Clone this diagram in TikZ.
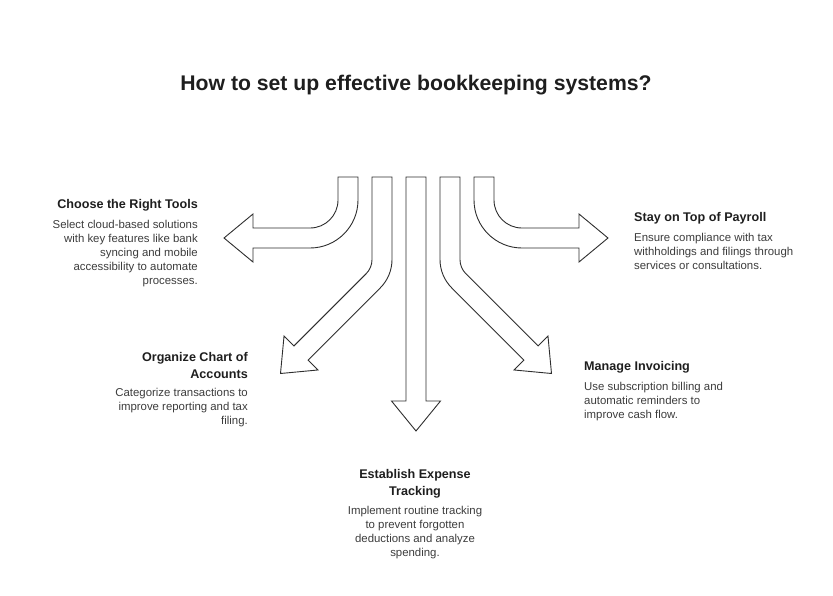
\documentclass[tikz,border=0pt]{standalone}
\usepackage{fontspec}
\setmainfont{Liberation Sans}
\usepackage{xcolor}
\usetikzlibrary{positioning}

\definecolor{ink}{HTML}{1E1E1E}
\definecolor{txt}{HTML}{3C3C3C}
\definecolor{edge}{HTML}{2E2E2E}

\begin{document}
\begin{tikzpicture}[x=1pt, y=-1pt,
  shp/.style={draw=edge, line width=0.9pt, fill=white, line join=miter},
  hd/.style={inner sep=0pt, text=ink, font=\fontsize{12.6}{17}\selectfont\bfseries},
  ds/.style={inner sep=0pt, text=txt, font=\fontsize{11.4}{14}\selectfont}]
\useasboundingbox (0,0) rectangle (833,595);

\node[inner sep=0pt, text=ink, font=\fontsize{21.2}{24}\selectfont\bfseries] (title) at (416,85)
  {How to set up effective bookkeeping systems?};

% arrows, left to right
\draw[shp] (338,177) -- (358,177) -- (358,200) .. controls (358,226.5) and (336.5,248) .. (310,248)
  -- (253,248) -- (253,262) -- (224,238) -- (253,214) -- (253,228) -- (310,228)
  .. controls (325.5,228) and (338,215.5) .. (338,200) -- cycle;
\draw[shp] (372,177) -- (392,177) -- (392,259.57) .. controls (392,270.18) and (387.78,280.36) .. (380.28,287.86)
  -- (308.07,360.07) -- (317.97,369.97) -- (280.5,373.5) -- (284.03,336.03) -- (293.93,345.93)
  -- (366.14,273.72) .. controls (369.89,269.97) and (372,264.88) .. (372,259.58) -- cycle;
\draw[shp] (406,177) -- (426,177) -- (426,401) -- (440.5,401) -- (416,431) -- (391.5,401) -- (406,401) -- cycle;
\draw[shp] (460,177) -- (440,177) -- (440,259.57) .. controls (440,270.18) and (444.22,280.36) .. (451.72,287.86)
  -- (523.93,360.07) -- (514.03,369.97) -- (551.5,373.5) -- (547.97,336.03) -- (538.07,345.93)
  -- (465.86,273.72) .. controls (462.11,269.97) and (460,264.88) .. (460,259.58) -- cycle;
\draw[shp] (494,177) -- (474,177) -- (474,200) .. controls (474,226.5) and (495.5,248) .. (522,248)
  -- (579,248) -- (579,262) -- (608,238) -- (579,214) -- (579,228) -- (522,228)
  .. controls (506.5,228) and (494,215.5) .. (494,200) -- cycle;

% labels
\node[hd, anchor=east] (tools) at (198,205) {Choose the Right Tools};
\node[ds, align=right, below left=9pt and 0pt of tools.south east] (tools-d)
  {Select cloud-based solutions\\with key features like bank\\syncing and mobile\\accessibility to automate\\processes.};

\node[hd, anchor=west] (payroll) at (634,218) {Stay on Top of Payroll};
\node[ds, align=left, below right=9pt and 0pt of payroll.south west] (payroll-d)
  {Ensure compliance with tax\\withholdings and filings through\\services or consultations.};

\node[hd, align=right, anchor=north east] (chart) at (248,352) {Organize Chart of\\Accounts};
\node[ds, align=right, below left=9pt and 0pt of chart.south east] (chart-d)
  {Categorize transactions to\\improve reporting and tax\\filing.};

\node[hd, anchor=west] (invoice) at (584,367) {Manage Invoicing};
\node[ds, align=left, below right=9pt and 0pt of invoice.south west] (invoice-d)
  {Use subscription billing and\\automatic reminders to\\improve cash flow.};

\node[hd, align=center, anchor=north] (expense) at (415,469) {Establish Expense\\Tracking};
\node[ds, align=center, below=8pt of expense] (expense-d)
  {Implement routine tracking\\to prevent forgotten\\deductions and analyze\\spending.};
\end{tikzpicture}
\end{document}
